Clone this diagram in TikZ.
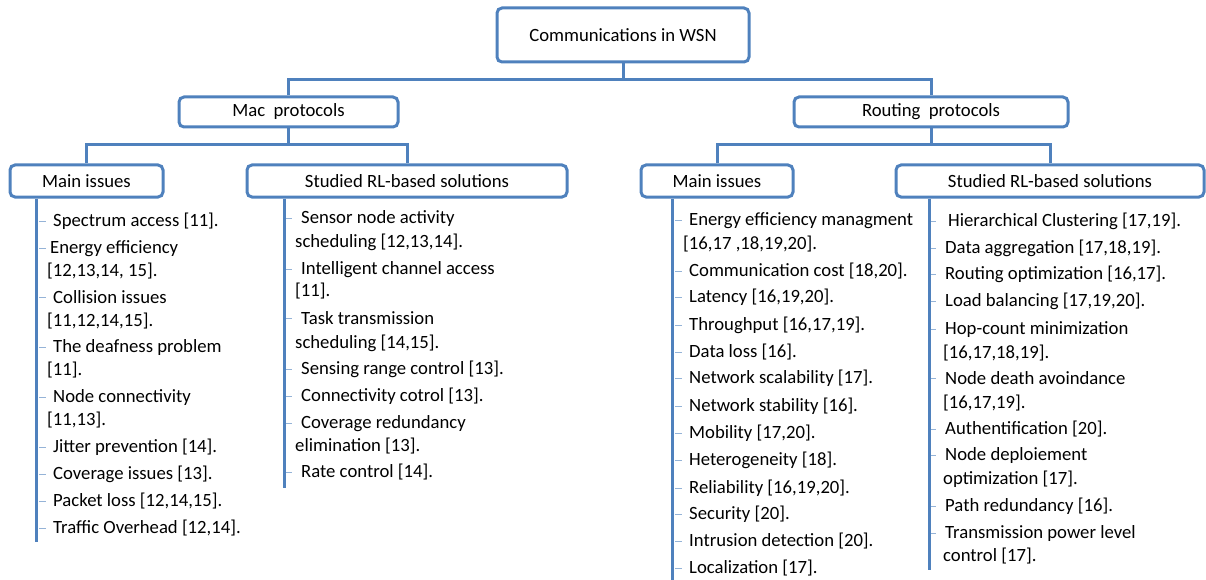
\documentclass[tikz,border=0pt]{standalone}
\usepackage{fontspec}
\setmainfont{Carlito}
\usetikzlibrary{calc}
\definecolor{boxblue}{HTML}{4F81BD}
\definecolor{tickblue}{HTML}{95B3D7}
\tikzset{
  hbox/.style={draw=boxblue, line width=3pt, rounded corners=5pt, inner sep=0pt, align=center, font=\fontsize{18.7}{22}\selectfont},
  conn/.style={draw=boxblue, line width=3pt},
  txt/.style={anchor=base west, inner sep=0pt, font=\fontsize{18.7}{22}\selectfont},
  tickln/.style={draw=tickblue, line width=1pt}
}
\newcommand\itl[4]{\node[txt] (#1) at (#2,#3+6.5) {#4};}
\begin{document}
\begin{tikzpicture}[x=1pt,y=-1pt]
\useasboundingbox (0,0) rectangle (1206,580);
% boxes
\node[hbox, minimum width=252pt, minimum height=54pt] (top) at (623,35) {Communications in WSN};
\node[hbox, minimum width=219pt, minimum height=30pt] (mac) at (288.5,112) {\raisebox{-1.5pt}{Mac\ \ protocols}};
\node[hbox, minimum width=274pt, minimum height=30pt] (rout) at (931,112) {\raisebox{-1.5pt}{Routing\ \ protocols}};
\node[hbox, minimum width=153pt, minimum height=32pt] (mi) at (86.5,181) {Main issues};
\node[hbox, minimum width=320pt, minimum height=32pt] (ms) at (407,181) {Studied RL-based solutions};
\node[hbox, minimum width=152pt, minimum height=32pt] (ri) at (717,181) {Main issues};
\node[hbox, minimum width=308pt, minimum height=32pt] (rs) at (1050,181) {Studied RL-based solutions};
% junctions
\coordinate (j1) at (623,80);
\coordinate (j2) at (288.5,145);
\coordinate (j3) at (931,145);
\draw[conn] (top.south) -- (j1);
\draw[conn] (mac.north) |- (j1);
\draw[conn] (j1) -| (rout.north);
\draw[conn] (mac.south) -- (j2);
\draw[conn] (mi.north) |- (j2);
\draw[conn] (j2) -| (ms.north);
\draw[conn] (rout.south) -- (j3);
\draw[conn] (ri.north) |- (j3);
\draw[conn] (j3) -| (rs.north);
% trunks
\coordinate (t1) at (36,542);
\coordinate (t2) at (284,488);
\coordinate (t3) at (672,582);
\coordinate (t4) at (929,570);
\draw[conn] (mi.south -| t1) -- (t1);
\draw[conn] (ms.south -| t2) -- (t2);
\draw[conn] (ri.south -| t3) -- (t3);
\draw[conn] (rs.south -| t4) -- (t4);
% Mac main issues
\itl{a1}{53}{220}{Spectrum access [11].}
\itl{a2}{50}{247}{Energy efficiency}
\itl{a2b}{47}{270}{[12,13,14, 15].}
\itl{a3}{53}{297}{Collision issues}
\itl{a3b}{47}{320}{[11,12,14,15].}
\itl{a4}{53}{346}{The deafness problem}
\itl{a4b}{47}{369}{[11].}
\itl{a5}{53}{396}{Node connectivity}
\itl{a5b}{47}{419}{[11,13].}
\itl{a6}{53}{446}{Jitter prevention [14].}
\itl{a7}{53}{473}{Coverage issues [13].}
\itl{a8}{53}{500}{Packet loss [12,14,15].}
\itl{a9}{53}{527}{Traffic Overhead [12,14].}
\foreach \n in {a1,a2,a3,a4,a5,a6,a7,a8,a9}
  \draw[tickln] ($(t1 |- \n.west)+(3,0)$) -- ++(7,0);
% Mac studied
\itl{b1}{301}{217}{Sensor node activity}
\itl{b1b}{295}{241}{scheduling [12,13,14].}
\itl{b2}{301}{268}{Intelligent channel access}
\itl{b2b}{295}{290}{[11].}
\itl{b3}{301}{318}{Task transmission}
\itl{b3b}{295}{342}{scheduling [14,15].}
\itl{b4}{301}{368}{Sensing range control [13].}
\itl{b5}{301}{395}{Connectivity cotrol [13].}
\itl{b6}{301}{422}{Coverage redundancy}
\itl{b6b}{295}{445}{elimination [13].}
\itl{b7}{301}{471}{Rate control [14].}
\foreach \n in {b1,b2,b3,b4,b5,b6,b7}
  \draw[tickln] ($(t2 |- \n.west)+(2,0)$) -- ++(6,0);
% Routing main issues
\itl{c1}{689}{219}{Energy efficiency managment}
\itl{c1b}{683}{243}{[16,17 ,18,19,20].}
\itl{c2}{689}{270}{Communication cost [18,20].}
\itl{c3}{689}{296}{Latency [16,19,20].}
\itl{c4}{689}{324}{Throughput [16,17,19].}
\itl{c5}{689}{351}{Data loss [16].}
\itl{c6}{689}{377}{Network scalability [17].}
\itl{c7}{689}{405}{Network stability [16].}
\itl{c8}{689}{432}{Mobility [17,20].}
\itl{c9}{689}{459}{Heterogeneity [18].}
\itl{c10}{689}{487}{Reliability [16,19,20].}
\itl{c11}{689}{513}{Security [20].}
\itl{c12}{689}{540}{Intrusion detection [20].}
\itl{c13}{689}{567}{Localization [17].}
\foreach \n in {c1,c2,c3,c4,c5,c6,c7,c8,c9,c10,c11,c12,c13}
  \draw[tickln] ($(t3 |- \n.west)+(3,0)$) -- ++(7,0);
% Routing studied
\itl{d1}{948}{220}{Hierarchical Clustering [17,19].}
\itl{d2}{945}{247}{Data aggregation [17,18,19].}
\itl{d3}{945}{273}{Routing optimization [16,17].}
\itl{d4}{945}{300}{Load balancing [17,19,20].}
\itl{d5}{945}{328}{Hop-count minimization}
\itl{d5b}{943}{352}{[16,17,18,19].}
\itl{d6}{945}{378}{Node death avoindance}
\itl{d6b}{943}{402}{[16,17,19].}
\itl{d7}{945}{428}{Authentification [20].}
\itl{d8}{945}{454}{Node deploiement}
\itl{d8b}{943}{478}{optimization [17].}
\itl{d9}{945}{505}{Path redundancy [16].}
\itl{d10}{945}{532}{Transmission power level}
\itl{d10b}{943}{555}{control [17].}
\foreach \n in {d1,d2,d3,d4,d5,d6,d7,d8,d9,d10}
  \draw[tickln] ($(t4 |- \n.west)+(2,0)$) -- ++(5,0);
\end{tikzpicture}
\end{document}
